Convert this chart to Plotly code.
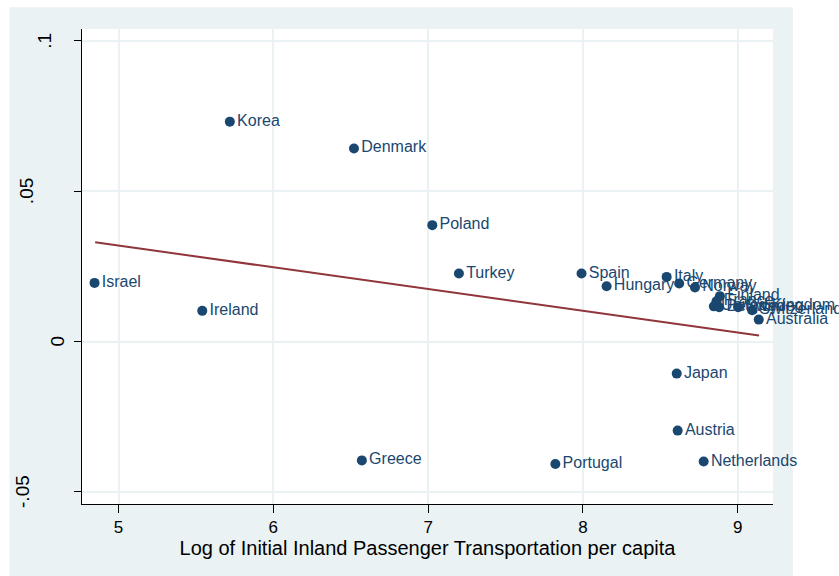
import plotly.graph_objects as go

# ---- data ----
countries = ["Korea", "Denmark", "Poland", "Turkey", "Israel", "Ireland",
             "Spain", "Hungary", "Italy", "Germany", "Norway", "Finland",
             "France", "United Kingdom", "Belgium", "Sweden", "Switzerland",
             "Australia", "Japan", "Austria", "Netherlands", "Greece", "Portugal"]
log_transport = [5.719, 6.521, 7.027, 7.199, 4.845, 5.541,
                 7.991, 8.153, 8.541, 8.622, 8.724, 8.885,
                 8.863, 8.846, 8.880, 9.003, 9.093,
                 9.136, 8.606, 8.612, 8.780, 6.572, 7.822]
growth = [0.0731, 0.0642, 0.0387, 0.0226, 0.0195, 0.0102,
          0.0226, 0.0184, 0.0215, 0.0193, 0.0180, 0.0151,
          0.0134, 0.0117, 0.0114, 0.0114, 0.0104,
          0.0073, -0.01065, -0.0296, -0.0399, -0.0395, -0.0407]
fit_x = [4.849, 9.138]
fit_y = [0.0330, 0.0020]

x_ticks = [5, 6, 7, 8, 9]
y_ticks = [-0.05, 0, 0.05, 0.1]
y_tick_text = ["-.05", "0", ".05", ".1"]
x_title = "Log of Initial Inland Passenger Transportation per capita"

NAVY = "#1a476f"
MAROON = "#90353b"
PANEL = "#eaf2f3"
FONT = "Liberation Sans, Arial, sans-serif"

W, H = 839, 576
ml, mr, mt, mb = 82, 66, 29, 72
pw, ph = W - ml - mr, H - mt - mb

def px_to_paper_x(p):
    return (p - ml) / pw

def px_to_paper_y(q):
    return (H - mb - q) / ph

fig = go.Figure()
fig.add_trace(go.Scatter(
    x=fit_x, y=fit_y, mode="lines",
    line=dict(color=MAROON, width=2), hoverinfo="skip", showlegend=False))
fig.add_trace(go.Scatter(
    x=log_transport, y=growth, mode="markers+text", text=countries,
    textposition="middle right",
    textfont=dict(family=FONT, size=16, color=NAVY),
    marker=dict(color=NAVY, size=10), cliponaxis=False, showlegend=False))

shapes = [
    dict(type="rect", xref="paper", yref="paper", layer="below",
         x0=px_to_paper_x(9.6), x1=px_to_paper_x(793),
         y0=px_to_paper_y(576), y1=px_to_paper_y(7.3),
         fillcolor=PANEL, line=dict(width=0)),
    dict(type="rect", xref="paper", yref="paper", layer="below",
         x0=0, x1=1, y0=0, y1=1, fillcolor="white", line=dict(width=0)),
]

# rotated y tick labels (Stata places them at slightly different offsets)
label_centres = {".1": 45, ".05": 26, "0": 58, "-.05": 23}
annotations = []
for val, txt in zip(y_ticks, y_tick_text):
    annotations.append(dict(
        xref="paper", yref="y", x=0, y=val, text=txt, showarrow=False,
        textangle=-90, xanchor="center", yanchor="middle",
        xshift=label_centres[txt] - ml,
        font=dict(family=FONT, size=19, color="black")))

fig.update_layout(
    width=W, height=H, autosize=False,
    margin=dict(l=ml, r=mr, t=mt, b=mb, pad=0),
    paper_bgcolor="white", plot_bgcolor="white",
    font=dict(family=FONT, color="black"),
    shapes=shapes, annotations=annotations,
    xaxis=dict(range=[4.764, 9.228], tickvals=x_ticks, ticks="outside",
               ticklen=8, tickcolor="black", tickwidth=1,
               showline=True, linecolor="black", linewidth=1,
               showgrid=True, gridcolor=PANEL, gridwidth=2, zeroline=False,
               tickfont=dict(size=17, family=FONT),
               title=dict(text=x_title, font=dict(size=20, family=FONT), standoff=0)),
    yaxis=dict(range=[-0.054, 0.1039], tickvals=y_ticks, showticklabels=False,
               ticks="outside", ticklen=7, tickcolor="black", tickwidth=1,
               showline=True, linecolor="black", linewidth=1,
               showgrid=True, gridcolor=PANEL, gridwidth=2, zeroline=False),
)

fig.write_html("out.html")
